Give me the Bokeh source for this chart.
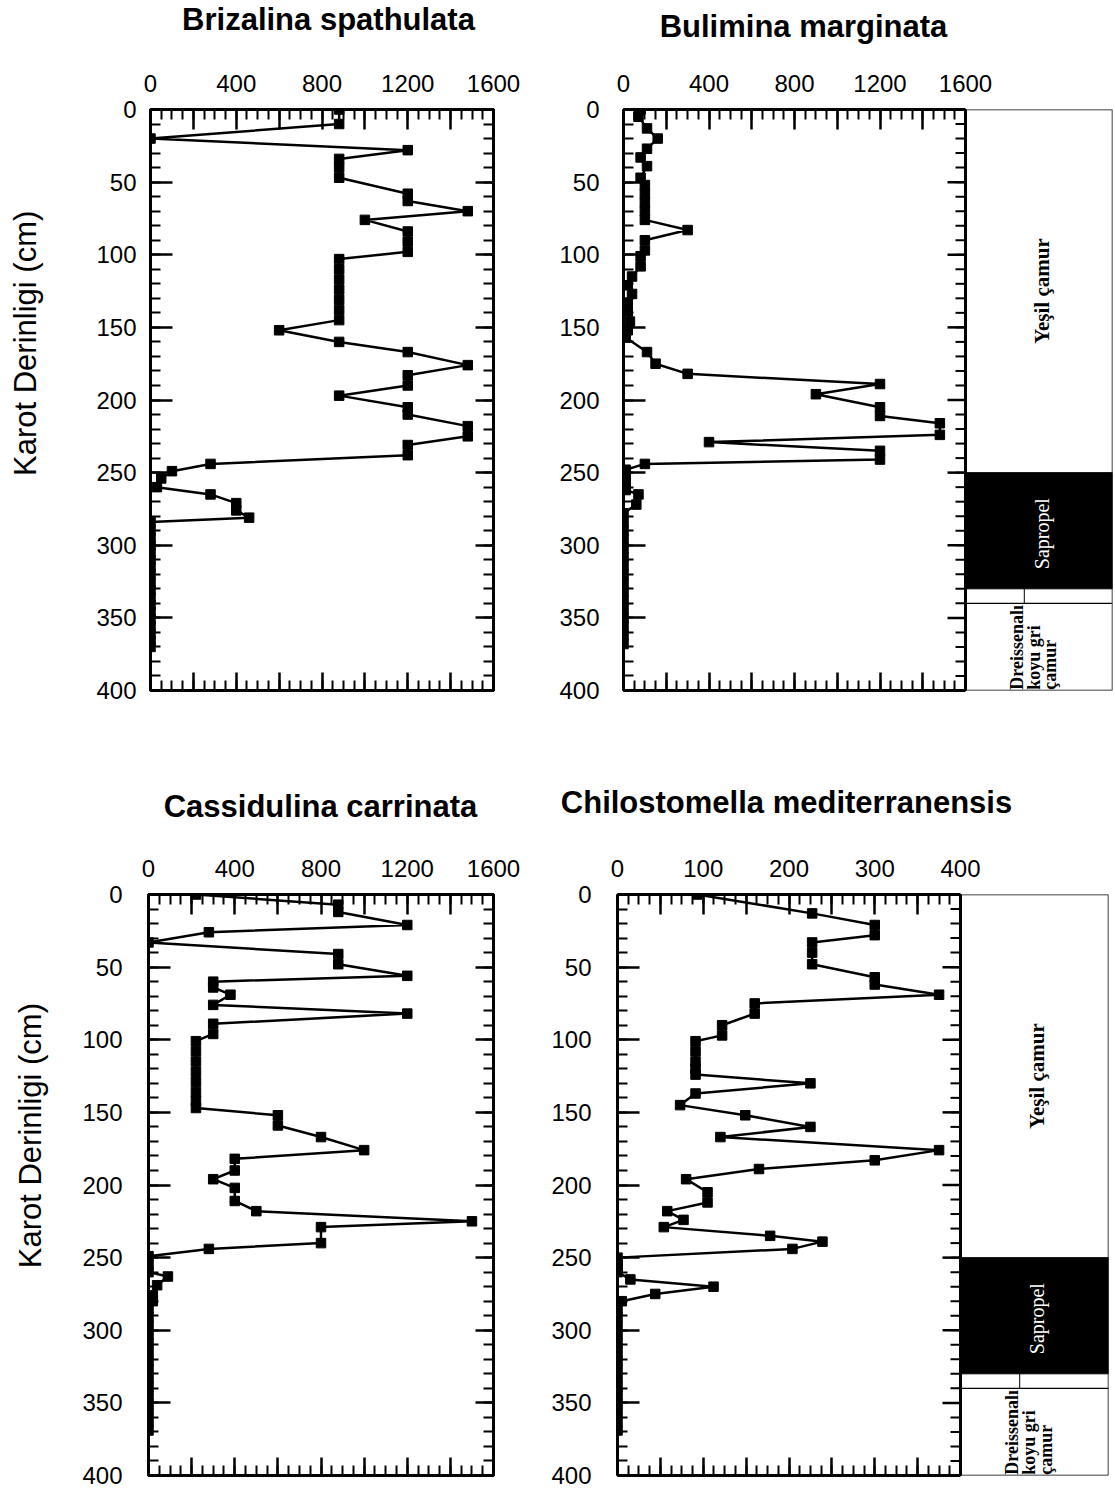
import math
from bokeh.plotting import figure
from bokeh.models import LinearAxis, FixedTicker, Range1d, CustomLabelingPolicy, Span
from bokeh.layouts import column, row
from bokeh.embed import file_html
from bokeh.resources import INLINE
from bokeh.core.properties import value

SANS = "Liberation Sans"
SERIF = "Liberation Serif"

# ---------------- data (depth in cm, individuals) ----------------
briz_depth = [0, 10, 20, 28, 34, 40, 47, 58, 63, 70, 76, 84, 91, 98, 103, 110, 117, 124, 131, 138, 145,
              152, 160, 167, 176, 183, 190, 197, 205, 210, 218, 225, 231, 238, 244, 249, 254, 260, 265,
              271, 276, 281, 284, 290, 295, 300, 305, 310, 315, 320, 326, 331, 336, 341, 346, 351, 356,
              361, 366, 370]
briz_count = [880, 880, 0, 1200, 880, 880, 880, 1200, 1200, 1480, 1000, 1200, 1200, 1200, 880, 880, 880,
              880, 880, 880, 880, 600, 880, 1200, 1480, 1200, 1200, 880, 1200, 1200, 1480, 1480, 1200,
              1200, 280, 100, 50, 30, 280, 400, 400, 460, 0, 0, 0, 0, 0, 0, 0, 0, 0, 0, 0, 0, 0, 0, 0,
              0, 0, 0]

bul_depth = [0, 5, 13, 20, 27, 33, 39, 47, 52, 58, 64, 70, 76, 83, 90, 97, 101, 108, 115, 121, 127, 133,
             139, 146, 152, 157, 167, 175, 182, 189, 196, 205, 211, 216, 224, 229, 235, 241, 244, 248,
             253, 258, 262, 265, 272, 278, 284, 290, 296, 302, 308, 314, 320, 326, 332, 338, 344, 350,
             356, 362, 368]
bul_count = [80, 70, 110, 160, 110, 80, 110, 80, 100, 100, 100, 100, 100, 300, 100, 100, 80, 80, 40, 20,
             40, 20, 20, 30, 20, 10, 110, 150, 300, 1200, 900, 1200, 1200, 1480, 1480, 400, 1200, 1200,
             100, 10, 10, 10, 10, 70, 60, 0, 0, 0, 0, 0, 0, 0, 0, 0, 0, 0, 0, 0, 0, 0, 0]

cas_depth = [0, 7, 12, 21, 26, 33, 41, 48, 56, 60, 64, 69, 76, 82, 89, 96, 101, 108, 115, 122, 129, 136,
             142, 147, 152, 159, 167, 176, 182, 190, 196, 202, 211, 218, 225, 229, 240, 244, 249, 255,
             260, 263, 269, 276, 280, 285, 291, 297, 303, 309, 315, 321, 327, 333, 339, 345, 351, 357,
             363, 369]
cas_count = [220, 880, 880, 1200, 280, 0, 880, 880, 1200, 300, 300, 380, 300, 1200, 300, 300, 220, 220,
             220, 220, 220, 220, 220, 220, 600, 600, 800, 1000, 400, 400, 300, 400, 400, 500, 1500, 800,
             800, 280, 0, 0, 0, 90, 40, 20, 20, 0, 0, 0, 0, 0, 0, 0, 0, 0, 0, 0, 0, 0, 0, 0]

chi_depth = [0, 13, 21, 28, 33, 40, 48, 57, 62, 69, 75, 82, 90, 97, 101, 108, 115, 120, 124, 130, 137,
             145, 152, 160, 167, 176, 183, 189, 196, 205, 212, 218, 224, 229, 235, 239, 244, 250, 253,
             257, 260, 265, 270, 275, 280, 285, 291, 297, 303, 309, 315, 321, 327, 333, 339, 345, 351,
             357, 363, 369]
chi_count = [93, 227, 300, 300, 227, 227, 227, 300, 300, 375, 160, 160, 122, 122, 91, 91, 91, 91, 91, 225,
             91, 73, 149, 225, 120, 375, 300, 165, 80, 105, 105, 58, 77, 54, 178, 239, 204, 0, 0, 0, 0,
             15, 112, 44, 5, 0, 0, 0, 0, 0, 0, 0, 0, 0, 0, 0, 0, 0, 0, 0]

# lithology (top, bottom depth in cm)
litho_names = ["Yeşil çamur", "Sapropel", "Dreissenalı", "koyu gri", "çamur"]
litho_top = [0, 250, 340]
litho_bottom = [250, 330, 400]

titles = ["Brizalina spathulata", "Bulimina marginata",
          "Cassidulina carrinata", "Chilostomella mediterranensis"]
ylabel = "Karot Derinligi (cm)"

depth_ticks = list(range(0, 401, 50))
depth_minor = list(range(0, 401, 10))
ticks1600 = list(range(0, 1601, 200))
minor1600 = list(range(0, 1601, 50))
ticks400 = list(range(0, 401, 50))
minor400 = [i * 12.5 for i in range(33)]

HIDE_ODD = """
for (const i of indices) { if (i % 2 == 1) { indices.unset(i) } }
return indices
"""


def style_axis(ax, major_in, minor_in, labels=True, size="24px"):
    ax.major_tick_in = major_in
    ax.major_tick_out = 0
    ax.minor_tick_in = minor_in
    ax.minor_tick_out = 0
    ax.axis_line_width = 3
    ax.axis_line_color = "black"
    ax.major_tick_line_width = 2.5
    ax.minor_tick_line_width = 2
    ax.major_tick_line_color = "black"
    ax.minor_tick_line_color = "black"
    if labels:
        ax.major_label_text_font = SANS
        ax.major_label_text_font_size = size
        ax.major_label_text_color = "black"
    else:
        ax.major_label_text_font_size = "0px"
        ax.major_label_text_color = None
        ax.major_label_standoff = 0


def base_fig(width, height, xr, bl, br, bt, bb):
    p = figure(width=width, height=height, x_range=xr, y_range=Range1d(400, 0),
               x_axis_location="above", y_axis_location="left", output_backend="svg",
               toolbar_location=None, min_border_left=bl, min_border_right=br,
               min_border_top=bt, min_border_bottom=bb)
    p.xgrid.visible = False
    p.ygrid.visible = False
    return p


def setup_axes(p, xmax, xticks, xminor, ystand, right_axis=True):
    top = p.xaxis[0]
    top.ticker = FixedTicker(ticks=xticks, minor_ticks=xminor)
    top.major_label_policy = CustomLabelingPolicy(code=HIDE_ODD)
    top.bounds = (0, xmax)
    style_axis(top, 20, 10)
    top.major_label_standoff = 18

    left = p.yaxis[0]
    left.ticker = FixedTicker(ticks=depth_ticks, minor_ticks=depth_minor)
    style_axis(left, 22, 10)
    left.major_label_standoff = ystand

    bottom = LinearAxis(ticker=FixedTicker(ticks=xticks, minor_ticks=xminor), bounds=(0, xmax))
    style_axis(bottom, 18, 10, labels=False)
    p.add_layout(bottom, "below")

    if right_axis:
        right = LinearAxis(ticker=FixedTicker(ticks=depth_ticks, minor_ticks=depth_minor))
        style_axis(right, 18, 10, labels=False)
        p.add_layout(right, "right")


def draw_series(p, depth, count):
    p.line(count, depth, line_color="black", line_width=2.5)
    p.scatter(count, depth, marker="square", size=9.5, color="black")


def ylabel_fig(width, height, bt, bb, label_depth):
    # narrow figure carrying the rotated depth-axis title, frame aligned with the panels
    p = figure(width=width, height=height, x_range=Range1d(0, 1), y_range=Range1d(400, 0),
               x_axis_type=None, y_axis_type=None, output_backend="svg", toolbar_location=None,
               min_border_left=0, min_border_right=0, min_border_top=bt, min_border_bottom=bb)
    p.xgrid.visible = False
    p.ygrid.visible = False
    p.outline_line_color = None
    p.text(x=[0.5], y=[label_depth], text=[ylabel], angle=math.pi / 2, text_align="center",
           text_baseline="middle", text_font=value(SANS), text_font_size="31px",
           text_color="black")
    return p


def panel_left(depth, count, width, height, bl, br, bt, bb, ystand):
    p = base_fig(width, height, Range1d(0, 1600), bl, br, bt, bb)
    p.outline_line_color = "black"
    p.outline_line_width = 3
    setup_axes(p, 1600, ticks1600, minor1600, ystand)
    draw_series(p, depth, count)
    return p


def panel_right(depth, count, xmax, xticks, xminor, width, height, bl, br, bt, bb, ystand,
                plot_px, litho_px):
    # plot_px: pixel width of the data frame; litho_px: pixel width of the lithology column
    scale = xmax / plot_px  # data units per pixel
    xr = Range1d(0, xmax + litho_px * scale)
    p = base_fig(width, height, xr, bl, br, bt, bb)
    p.outline_line_color = None
    p.extra_x_ranges = {"litho": Range1d(-plot_px / litho_px, 1)}
    setup_axes(p, xmax, xticks, xminor, ystand, right_axis=False)

    # right-hand frame edge of the data panel with inward ticks
    p.add_layout(Span(location=xmax, dimension="height", line_color="black", line_width=3))
    p.segment(x0=[xmax - 18 * scale] * len(depth_ticks), x1=[xmax] * len(depth_ticks),
              y0=depth_ticks, y1=depth_ticks, line_color="black", line_width=2.5)
    p.segment(x0=[xmax - 10 * scale] * len(depth_minor), x1=[xmax] * len(depth_minor),
              y0=depth_minor, y1=depth_minor, line_color="black", line_width=2)
    draw_series(p, depth, count)

    # lithology column
    L = "litho"
    p.quad(left=[0], right=[1], top=[0], bottom=[400], fill_color=None, line_color="black",
           line_width=1.5, x_range_name=L)
    p.quad(left=[0], right=[1], top=[litho_top[1]], bottom=[litho_bottom[1]],
           fill_color="black", line_color="black", x_range_name=L)
    p.segment(x0=[0], x1=[1], y0=[litho_top[2]], y1=[litho_top[2]], line_color="black",
              line_width=1.2, x_range_name=L)
    p.segment(x0=[0.4], x1=[0.4], y0=[litho_bottom[1]], y1=[litho_top[2]], line_color="black",
              line_width=1, x_range_name=L)
    ang = math.pi / 2
    p.text(x=[0.52], y=[(litho_top[0] + litho_bottom[0]) / 2], text=[litho_names[0]], angle=ang,
           text_align="center", text_baseline="middle", text_font=value(SERIF),
           text_font_size="21px", text_font_style="bold", text_color="black", x_range_name=L)
    p.text(x=[0.52], y=[292], text=[litho_names[1]], angle=ang, text_align="center",
           text_baseline="middle", text_font=value(SERIF), text_font_size="20px",
           text_color="white", x_range_name=L)
    p.text(x=[0.35, 0.465, 0.575], y=[399.5, 399.5, 399.5], text=litho_names[2:], angle=ang,
           text_align="left", text_baseline="middle", text_font=value(SERIF),
           text_font_size="18px", text_font_style="bold", text_color="black", x_range_name=L)
    return p


def strip(height, xs, ys, texts):
    p = figure(width=1115, height=height, x_range=Range1d(0, 1115), y_range=Range1d(height, 0),
               x_axis_type=None, y_axis_type=None, output_backend="svg", toolbar_location=None,
               min_border=0, min_border_left=0, min_border_right=0, min_border_top=0,
               min_border_bottom=0)
    p.xgrid.visible = False
    p.ygrid.visible = False
    p.outline_line_color = None
    p.text(x=xs, y=ys, text=texts, text_align="center", text_baseline="middle",
           text_font=value(SANS), text_font_size="31px", text_font_style="bold", text_color="black")
    return p


# row 1: frames top 109, bottom 690
s1 = strip(45, [328, 803], [19, 26], titles[:2])
yA = ylabel_fig(50, 695, 64, 50, 161)
pA = panel_left(briz_depth, briz_count, 485, 695, 100, 42, 64, 50, 14)
pB = panel_right(bul_depth, bul_count, 1600, ticks1600, minor1600, 580, 695, 88, 3, 64, 50, 24,
                 plot_px=342, litho_px=147)

# row 2: frames top 894, bottom 1475
s2 = strip(85, [320, 786], [66, 62], titles[2:])
yC = ylabel_fig(60, 670, 69, 20, 166)
pC = panel_left(cas_depth, cas_count, 475, 670, 88, 42, 69, 20, 26)
pD = panel_right(chi_depth, chi_count, 400, ticks400, minor400, 580, 670, 82, 7, 69, 20, 26,
                 plot_px=343, litho_px=148)

layout = column(s1, row(yA, pA, pB), s2, row(yC, pC, pD))

with open("out.html", "w") as f:
    f.write(file_html(layout, INLINE))
